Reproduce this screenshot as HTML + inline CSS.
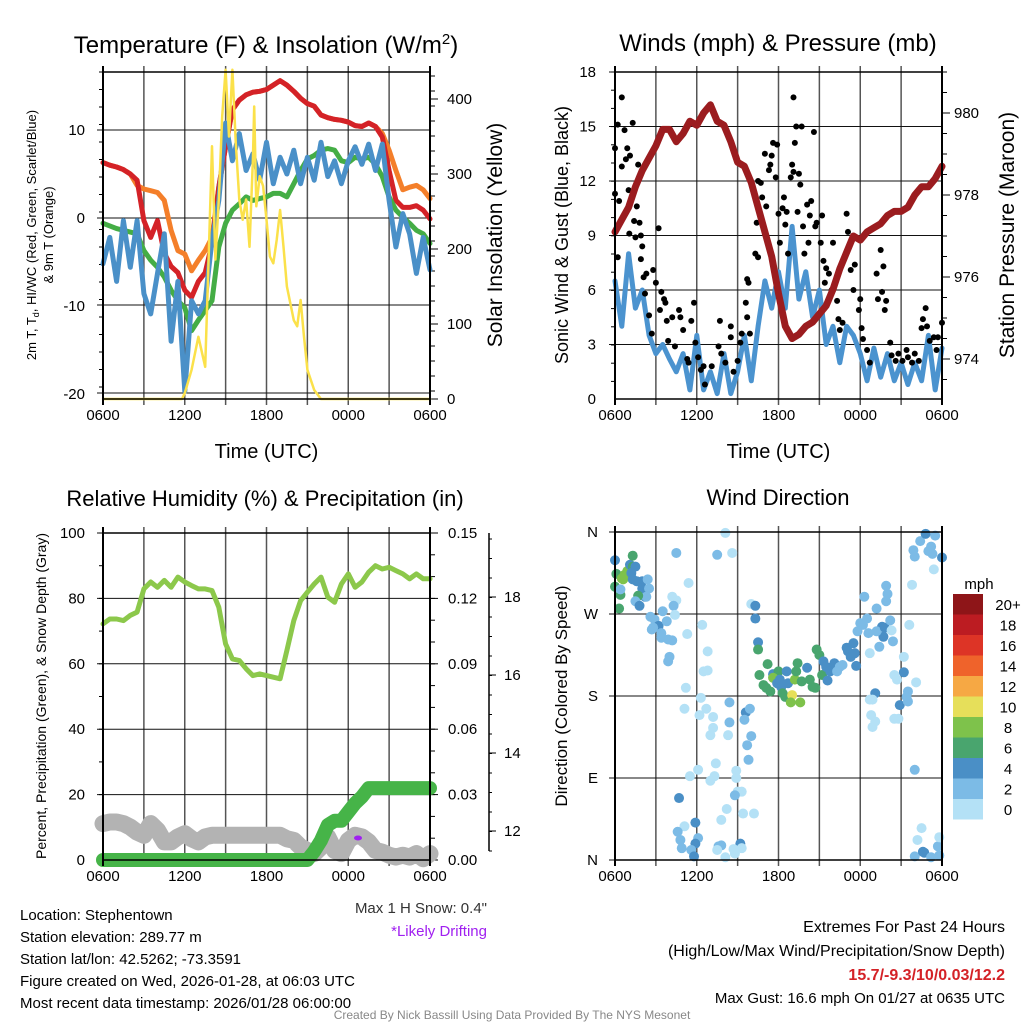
<!DOCTYPE html>
<html><head><meta charset="utf-8"><style>
body{margin:0;background:#fff}
svg{display:block;font-family:"Liberation Sans",Arial,sans-serif}
</style></head><body>
<svg id="c" width="1024" height="1024" viewBox="0 0 1024 1024" xmlns="http://www.w3.org/2000/svg"></svg>
<script>
// ---------- data ----------
const hh = [0,0.5,1,1.5,2,2.5,3,3.5,4,4.5,5,5.5,6,6.5,7,7.5,8,8.5,9,9.5,10,10.5,11,11.5,12,12.5,13,13.5,14,14.5,15,15.5,16,16.5,17,17.5,18,18.5,19,19.5,20,20.5,21,21.5,22,22.5,23,23.5,24];
const tempRed = [6.3,6.0,5.8,5.5,5.0,4.3,-0.3,-2.2,-0.3,-4,-5.5,-6.2,-8.2,-9,-7.2,-6.2,-2.9,3.5,8.1,12.3,13.4,14,14.3,14.4,14.6,15.1,15.6,15.1,14.4,13.6,13.0,12.7,11.7,11.4,11.2,11.1,10.9,10.5,10.4,10.8,10.4,9.2,5.4,2,1.2,1.2,1.4,0.9,-0.1];
const temp9m = [6.3,6.0,5.8,5.5,5.0,3.7,3.3,3.1,2.9,2.0,-1.4,-3.7,-4.1,-6.0,-4.8,-3.7,-2.2,3.5,8.1,12.3,13.4,14,14.3,14.4,14.6,15.1,15.6,15.1,14.4,13.6,13.0,12.7,11.7,11.4,11.2,11.1,10.9,10.5,10.4,10.8,10.4,9.6,7.7,5.4,3.2,3.5,3.7,3.2,2.2];
const dewGreen = [-0.6,-0.9,-1.2,-1.4,-1.6,-1.8,-3.7,-4.8,-5.6,-6.7,-8.2,-9.4,-10.2,-12.8,-11.6,-10.5,-9.4,-3.3,-0.6,0.9,1.6,2.4,2,2.2,2.4,2.8,2.8,2.4,3.9,5.4,6.7,7.1,7.7,7.9,7.7,6.5,6.3,6.9,6.7,6.9,6.1,4.7,2.4,0.9,0.1,-0.6,-1.4,-1.8,-2.9];
const chillBlue = [-5.2,-2.2,-7.2,-0.3,-5.6,-0.3,-8.6,-10.9,-6.3,-1.8,-14,-7.2,-19.7,-9.4,-10.9,-9.4,-2.5,2,10.8,6.5,9.6,5.4,7.3,4.3,8.6,3.9,6.9,5,7.7,3.9,6.9,4.3,8.6,4.7,6.5,3.9,6.5,8.1,6.1,8.4,5.4,8.4,2,-3.3,0.5,-1.8,-6.3,-2.2,-5.9];
const solarH = [0,5.8,6,6.5,7,7.5,7.75,8,8.25,8.5,8.75,9,9.25,9.5,9.75,10,10.25,10.5,10.75,11,11.1,11.25,11.5,11.75,12,12.25,12.5,12.75,13,13.25,13.5,14,14.25,14.5,14.75,15,15.5,16,24];
const solarW = [0,0,8,39,83,43,186,337,186,266,377,439,350,439,341,266,239,266,203,319,390,257,297,284,239,190,181,212,252,203,150,105,97,132,83,39,12,0,0];
const pressure = [977.1,977.4,977.7,978.2,978.6,978.9,979.2,979.6,979.6,979.3,979.5,979.8,979.7,980,980.2,979.8,979.7,979.3,978.8,978.7,978.3,977.7,977.1,976.5,975.6,974.8,974.5,974.6,974.8,974.9,975.1,975.3,975.7,976.2,976.6,977,976.9,977.1,977.2,977.3,977.5,977.6,977.6,977.7,978,978.2,978.2,978.4,978.7];
const windSpd = [6.5,4,8,5,6,3.5,2.5,3,2.2,1.5,2.5,0.5,3.5,0.5,1.5,0.3,2.5,0.3,1.5,3.5,1,4,6.5,5,7,5,9.5,5.5,7,4.5,6,3,4,2,4,3.5,2.5,1,2.8,1.2,2.5,1,2,0.8,2,1,3.5,0.5,2.8];
const gustH = [0,0,0.2,0.3,0.2,0.5,0.5,0.7,0.9,0.8,1,1.1,1.3,1.05,1.4,1.5,1.6,1.7,1.8,1.9,2,1.9,2.1,2.2,2.3,2.5,2.7,2.8,3,3.2,3.3,3.4,3.6,3.7,3.8,3.9,4.2,4.4,4.7,4.8,5,5.3,5.4,5.8,5.6,5.9,6.1,6.3,6.5,6.6,7.1,7.6,7.7,7.8,8.1,8.5,8.5,8.7,9,9.2,9.3,9.6,9.7,9.8,9.9,9.7,10.3,10.5,10.4,10.5,10.7,10.8,11,11.1,11.3,11.4,11.5,11.6,11.8,11.9,12,12.1,12.3,12.4,12.5,12.6,12.7,12.9,13,13.1,13.1,13.2,13.3,13.4,13.5,13.6,13.7,13.8,13.9,14.1,14.2,14.3,14.4,14.6,14.7,14.8,15.1,15.2,15.3,15.4,15.5,15.7,15.9,16,16.3,16.4,16.5,16.7,17,17.1,17.3,17.5,17.6,17.9,18,18.1,18.2,18.5,18.7,19.2,19.3,19.5,19.6,19.7,19.8,19.9,20.2,20.3,20.6,20.8,21.1,21.4,21.5,21.8,22,22.3,22.5,22.6,22.8,22.9,23.1,23.4,23.6,23.7,24];
const gustV = [13.8,11.3,15.1,10.9,7.8,16.6,12.8,14.8,13.8,13.2,11.5,13.4,15.2,9.1,9.8,8.9,10.6,12.9,9.7,9.0,8.4,7.7,6.7,5.8,6.9,4.6,3.6,7.1,6.4,9.4,4.9,5.9,5.5,5.3,4.3,3.2,4.5,2.9,4.9,4.5,3.8,2.2,2.0,5.3,4.3,3.1,2.3,1.6,1.8,0.8,1.8,2.9,4.3,2.5,2.0,4.0,3.4,1.5,2.1,3.1,3.6,5.3,6.6,6.4,3.6,4.5,8.0,7.8,9.7,12.0,11.9,11.1,13.5,10.6,12.6,12.9,13.4,14.1,12.2,14.0,10.2,8.6,10.5,11.1,9.6,10.3,8.0,12.2,12.9,16.6,12.5,14.1,15.0,10.3,12.4,11.8,15.0,9.5,8.0,10.7,8.6,10.1,10.9,14.7,9.5,9.7,8.6,10.1,7.6,6.4,7.2,6.9,6.0,8.6,5.4,4.4,3.8,4.2,10.2,9.2,7.1,6.0,7.4,4.9,5.5,3.9,3.3,2.7,2.0,6.9,5.5,8.2,5.9,7.3,4.9,5.4,3.1,2.4,2.1,2.5,2.1,2.7,2.3,2.0,2.5,2.1,3.9,4.4,5.0,4.0,3.2,3.4,2.7,3.4,4.2];
const rh = [72.2,73.7,73.7,73.2,74.8,75.8,82.9,85,83.4,85.5,83.4,86.5,85,83.9,82.9,82.9,82.4,77.3,66.1,61.5,61,58.5,56.4,56.9,56.4,55.9,55.4,64.1,73.2,79.3,81.9,84.4,86.5,80.4,78.8,84.4,87.5,83.4,85,88,90,89,89.5,88.5,87.5,86,87.5,86,86];
const precip = [0,0,0,0,0,0,0,0,0,0,0,0,0,0,0,0,0,0,0,0,0,0,0,0,0,0,0,0,0,0,0,0.004,0.009,0.016,0.018,0.018,0.022,0.026,0.029,0.033,0.033,0.033,0.033,0.033,0.033,0.033,0.033,0.033,0.033];
const snow = [12.19,12.23,12.23,12.19,12.1,11.97,11.89,12.19,12.02,11.72,11.72,11.85,11.93,11.8,11.72,11.85,11.89,11.89,11.89,11.89,11.89,11.89,11.89,11.89,11.89,11.89,11.89,11.8,11.76,11.59,11.5,11.42,11.59,11.85,11.5,11.42,11.76,11.89,11.85,11.72,11.5,11.46,11.38,11.33,11.38,11.33,11.42,11.29,11.42];
const dirH = [0,0.1,0,0.3,0.4,0.4,0.6,0.7,0.5,0.9,1.1,1.3,1.3,1.5,1.2,1.3,1.6,2,2,2.4,2.5,2.2,2.3,1.7,1.5,1.8,2.6,2.9,3.2,2.8,2.7,3.5,3.8,3.4,3.4,3.9,4.2,4,3.9,4.5,5.4,4.2,4.5,4.3,4.4,5.3,6.4,6.8,6.5,6.8,5.2,6.3,5.1,6.7,6.2,7.2,7.2,8.3,7,8.4,8.4,9.6,9.9,9.5,10,9.7,9.8,7.4,6.1,7.3,5.5,7,8.9,8.9,9,9.3,8.8,4.7,5.1,4.6,4.8,4.9,5.9,6.1,5.9,5.6,5.8,8.2,7.8,9.4,10.2,9.2,9.3,7.6,7.8,7.5,8.7,8.8,8.1,8.1,7.5,8.6,10,10.3,10.3,10.5,10.5,11.2,10.6,11.6,12,10.9,11.1,11.4,11.6,11.9,12.1,12.2,12.3,12.5,12.6,12.7,13,12.9,13.6,13.2,13.3,13.4,13.7,14.1,14.3,14.5,14.7,14.8,15,15.2,15.3,15.5,15.6,15.8,16,16.1,16.3,16.5,16.7,17,17.1,17.3,17.5,17.7,17.6,18,18.2,18.5,18.6,17.8,18.3,18.7,19.2,19.6,19.7,19.4,19.2,19.8,19.9,20,19.9,20.2,20.3,20.4,21.2,20.5,20.7,21.2,21.5,21.4,20.9,21.5,22.1,19.1,18.7,18.9,18.8,19.1,18.9,20.5,20.8,21.6,21.8,22,21.9,22,22.4,22.8,23.5,23,23.2,23.3,24,23.4,22.5,22.2,22,22.6,22.7,23.2,23.7,23.8,23.8];
const dirDeg = [329,314,300,276,291,297,308,313,309,317,324,334,322,322,315,308,306,306,298,308,298,289,289,290,284,279,267,264,257,255,253,273,262,249,244,242,241,223,218,337,304,289,285,279,269,248,258,229,207,208,189,178,166,166,159,157,145,137,137,173,151,162,166,154,136,126,110,106,99,92,92,87,98,90,75,75,71,68,37,31,22,13,41,24,18,11,4,56,44,51,51,18,13,15,16,11,12,7,3,359,335,337,281,279,265,239,231,215,203,204,207,192,189,185,200,194,198,190,183,179,207,194,181,173,173,198,207,216,196,211,198,190,189,231,225,203,218,212,197,207,212,216,207,212,214,233,229,223,238,213,227,260,258,265,249,251,289,227,276,256,245,234,251,255,301,292,284,263,252,240,223,203,198,206,185,179,170,174,195,183,176,176,159,152,146,155,155,258,302,99,340,333,350,358,356,339,344,336,332,319,35,22,4,9,8,3,15,25,5];
const dirSpd = [5,7,7,7,7,3,9,9,9,9,5,7,7,5,5,5,5,5,5,3,3,5,3,7,3,5,3,3,5,3,3,3,3,3,3,3,3,3,3,3,1,1,1,3,1,1,1,1,1,1,1,1,1,1,1,1,1,1,1,3,3,5,3,3,3,3,3,1,1,1,1,1,1,1,1,1,3,5,1,3,3,3,5,3,5,3,5,1,1,1,1,5,1,3,3,1,1,1,1,1,3,1,1,5,5,5,7,7,7,5,7,7,7,7,9,5,5,5,7,7,5,5,11,9,9,9,7,7,7,5,7,7,7,7,7,7,5,5,5,5,5,5,3,3,3,5,5,5,5,5,5,3,3,3,3,3,3,1,3,5,5,3,3,5,3,3,3,3,1,3,1,1,1,5,3,3,5,3,1,5,1,1,1,1,1,1,1,1,1,3,3,3,3,5,3,3,3,3,5,1,1,1,3,5,5,3,3,1,3];
const cbLabels = ['20+','18','16','14','12','10','8','6','4','2','0'];
const cbColors = ['#8e1518','#bc1c22','#dd3426','#ef632b','#f6a844','#e6df5a','#7ec24b','#49a56e','#4a8fc6','#7cbbe6','#b4e1f6'];
const timeLabels = ['0600','1200','1800','0000','0600'];

// ---------- helpers ----------
const S = document.getElementById('c');
const NS = 'http://www.w3.org/2000/svg';
function el(tag, a, parent){const e=document.createElementNS(NS,tag);for(const k in a)e.setAttribute(k,a[k]);(parent||S).appendChild(e);return e;}
function txt(x,y,s,size,anchor,extra){const t=el('text',Object.assign({x:x,y:y,'font-size':size,'text-anchor':anchor||'middle',fill:'#000'},extra||{}));t.textContent=s;return t;}
const X0=103,X1=430,X0b=615,X1b=942;
function xs(x0,x1){return h=>x0+(x1-x0)*h/24;}
function lin(v0,p0,v1,p1){return v=>p0+(v-v0)*(p1-p0)/(v1-v0);}
function path(xf,yf,hs,vs,attrs){let d='';for(let i=0;i<hs.length;i++){d+=(i?'L':'M')+xf(hs[i]).toFixed(1)+' '+yf(vs[i]).toFixed(1);}return el('path',Object.assign({d:d,fill:'none','stroke-linejoin':'round','stroke-linecap':'round'},attrs));}
function grid(x0,x1,y0,y1,ys){
  for(let i=1;i<8;i++){const x=x0+(x1-x0)*i/8;el('line',{x1:x,x2:x,y1:y0-6,y2:y1+6,stroke:'#555','stroke-width':1.5});}
  ys.forEach(y=>el('line',{x1:x0-6,x2:x1,y1:y,y2:y,stroke:'#111','stroke-width':1}));
}
function frame(x0,x1,y0,y1,name){const r=el('rect',{x:x0,y:y0,width:x1-x0,height:y1-y0,fill:'none',stroke:'#000','stroke-width':1.5});
  el('line',{x1:x0,x2:x0,y1:y0-6,y2:y1+6,stroke:'#000','stroke-width':2});el('line',{x1:x1,x2:x1,y1:y0-6,y2:y1+6,stroke:'#000','stroke-width':2});}
function timeAxis(x0,x1,y,title){const xf=xs(x0,x1);timeLabels.forEach((l,i)=>{const t=txt(xf(i*6),y+21,l,15);});
  if(title){const t=txt((x0+x1)/2,y+59,'Time (UTC)',20);}}
function rot(x,y,s,size,name){const t=txt(x,y,s,size,'middle',{transform:`rotate(-90 ${x} ${y})`});return t;}
function minor(x,yA,yB,step,dir,len){for(let y=yA;y<=yB+0.01;y+=step)el('line',{x1:x,x2:x+dir*len,y1:y,y2:y,stroke:'#000','stroke-width':1});}

// ---------- panel 1: temperature ----------
{
const xf=xs(X0,X1), yT=lin(0,218,10,130), yS=lin(0,399,400,99);
grid(X0,X1,72,399,[130,218,305,393]);
[-20,-10,0,10].forEach(v=>{const t=txt(85,yT(v)+5,String(v),15,'end');});
minor(X0,72,399,17.5,-1,4);
[0,100,200,300,400].forEach(v=>{const t=txt(447,yS(v)+5,String(v),15,'start');el('line',{x1:X1,x2:X1+8,y1:yS(v),y2:yS(v),stroke:'#000'});});
minor(X1,76,399,15,1,5);
let p;
p=path(xf,yT,hh,temp9m,{stroke:'#f47f2a','stroke-width':5});
p=path(xf,yT,hh,tempRed,{stroke:'#d42227','stroke-width':5});
p=path(xf,yT,hh,dewGreen,{stroke:'#44ad45','stroke-width':5});
p=path(xf,yT,hh,chillBlue,{stroke:'#4a90c8','stroke-width':5});
p=path(xf,yS,solarH,solarW,{stroke:'#fbe14a','stroke-width':2.5});
frame(X0,X1,72,399,'temperature-plot-frame');
timeAxis(X0,X1,399,true);
const t=txt(266,53,'',24);t.innerHTML='Temperature (F) &amp; Insolation (W/m<tspan font-size="15" dy="-9">2</tspan><tspan dy="9">)</tspan>';
rot(502,235,'Solar Insolation (Yellow)',21,'solar-axis-title');
const a=el('text',{x:36,y:235,'font-size':13,'text-anchor':'middle',transform:'rotate(-90 36 235)'});a.innerHTML='2m T, T<tspan font-size="9" dy="3">d</tspan><tspan dy="-3">, HI/WC (Red, Green, Scarlet/Blue)</tspan>';
rot(53,235,'& 9m T (Orange)',13,'temp-axis-title-2');
}

// ---------- panel 2: winds ----------
{
const xf=xs(X0b,X1b), yW=lin(0,399,18,72), yP=lin(974,359,980,113);
grid(X0b,X1b,72,399,[72,126.5,181,235.5,290,344.5]);
[0,3,6,9,12,15,18].forEach(v=>{const t=txt(596,yW(v)+5,String(v),15,'end');});
minor(X0b,72,399,18.2,-1,4);
[974,976,978,980].forEach(v=>{const t=txt(954,yP(v)+5,String(v),15,'start');el('line',{x1:X1b,x2:X1b+8,y1:yP(v),y2:yP(v),stroke:'#000'});});
minor(X1b,72,399,20.5,1,5);
let p=path(xf,yW,hh,windSpd,{stroke:'#4b93cf','stroke-width':5});
for(let i=0;i<gustH.length;i++){const c=el('circle',{cx:xf(gustH[i]),cy:yW(gustV[i]),r:3,fill:'#000'});}
p=path(xf,yP,hh,pressure,{stroke:'#9b1c1f','stroke-width':7});
frame(X0b,X1b,72,399,'winds-plot-frame');
timeAxis(X0b,X1b,399,true);
const t=txt(778,51,'Winds (mph) & Pressure (mb)',24);
rot(568,235,'Sonic Wind & Gust (Blue, Black)',18,'wind-axis-title');
rot(1014,235,'Station Pressure (Maroon)',21,'pressure-axis-title');
}

// ---------- panel 3: humidity ----------
{
const xf=xs(X0,X1), yR=lin(0,860,100,533), yPr=lin(0,860,0.15,533), ySn=lin(12,831,18,597);
grid(X0,X1,533,860,[533,598.4,663.8,729.2,794.6]);
[0,20,40,60,80,100].forEach(v=>{const t=txt(85,yR(v)+5,String(v),15,'end');});
minor(X0,533,860,32.7,-1,4);
['0.00','0.03','0.06','0.09','0.12','0.15'].forEach((s,i)=>{const y=yPr(i*0.03);const t=txt(448,y+5,s,15,'start');el('line',{x1:X1,x2:X1+8,y1:y,y2:y,stroke:'#000'});});
minor(X1,533,860,21.8,1,5);
el('line',{x1:489,x2:489,y1:533,y2:851,stroke:'#000','stroke-width':1.5});
[12,14,16,18].forEach(v=>{const t=txt(504,ySn(v)+5,String(v),15,'start');el('line',{x1:489,x2:496,y1:ySn(v),y2:ySn(v),stroke:'#000'});});
minor(489,539,851,19.5,1,3);
let p=path(xf,ySn,hh,snow,{stroke:'#b3b3b3','stroke-width':17});
p=path(xf,yR,hh,rh,{stroke:'#8cc84b','stroke-width':5});
p=path(xf,yPr,hh,precip,{stroke:'#46b448','stroke-width':14});
const dr=el('ellipse',{cx:358,cy:838,rx:4,ry:2.5,fill:'#a020f0'});
frame(X0,X1,533,860,'humidity-plot-frame');
timeAxis(X0,X1,860,false);
const t=txt(265,506,'Relative Humidity (%) & Precipitation (in)',22);
rot(46,696,'Percent, Precipitation (Green), & Snow Depth (Gray)',14,'humidity-axis-title');
}

// ---------- panel 4: wind direction ----------
{
const xf=xs(X0b,X1b), yD=lin(0,860,360,532);
grid(X0b,X1b,532,860,[532,614,696,778,860]);
['N','E','S','W','N'].forEach((s,i)=>{const t=txt(598,yD(i*90)+5,s,15,'end');});
for(let i=0;i<dirH.length;i++){const b=Math.min(10,Math.floor(dirSpd[i]/2));const c=el('circle',{cx:xf(dirH[i]),cy:yD(dirDeg[i]),r:5,fill:cbColors[10-b]});}
frame(X0b,X1b,532,860,'direction-plot-frame');
timeAxis(X0b,X1b,860,false);
const t=txt(778,505,'Wind Direction',22);
rot(567,696,'Direction (Colored By Speed)',17,'direction-axis-title');
const lt=txt(979,589,'mph',15,'middle');
cbColors.forEach((col,i)=>{const r=el('rect',{x:953,y:594+i*20.5,width:30,height:20.5,fill:col});
 const l=txt(1008,594+i*20.5+16,cbLabels[i],15,'middle');});
}

// ---------- footer text ----------
const leftLines=['Location: Stephentown','Station elevation: 289.77 m','Station lat/lon: 42.5262; -73.3591','Figure created on Wed, 2026-01-28, at 06:03 UTC','Most recent data timestamp: 2026/01/28 06:00:00'];
leftLines.forEach((s,i)=>{const t=txt(20,920+i*22,s,15,'start');});
let t=txt(487,913,'Max 1 H Snow: 0.4"',15,'end',{fill:'#333'});
t=txt(487,936,'*Likely Drifting',15,'end',{fill:'#a020f0'});
t=txt(1005,932,'Extremes For Past 24 Hours',16,'end');
t=txt(1005,956,'(High/Low/Max Wind/Precipitation/Snow Depth)',16,'end');
t=txt(1005,980,'15.7/-9.3/10/0.03/12.2',16,'end',{fill:'#d42227','font-weight':'bold'});
t=txt(1005,1003,'Max Gust: 16.6 mph On 01/27 at 0635 UTC',15,'end');
t=txt(512,1019,'Created By Nick Bassill Using Data Provided By The NYS Mesonet',12,'middle',{fill:'#888'});
</script>
</body></html>
